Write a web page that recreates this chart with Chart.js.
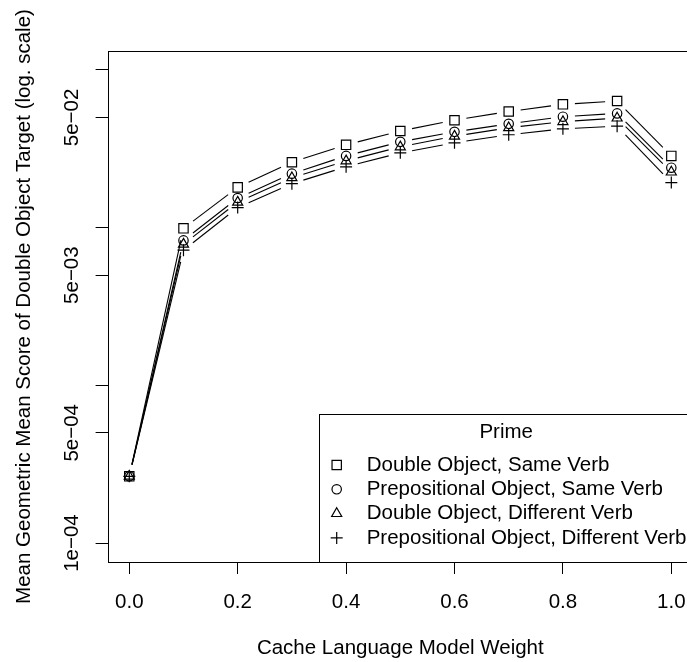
<!DOCTYPE html>
<html>
<head>
<meta charset="utf-8">
<script src="https://cdn.jsdelivr.net/npm/chart.js@4.4.1/dist/chart.umd.min.js"></script>
<style>
  html, body { margin:0; padding:0; background:#fff; overflow:hidden; }
  #wrap { width:720px; height:662px; }
</style>
</head>
<body>
<div id="wrap"><canvas id="grafico" width="720" height="662"></canvas></div>
<script>
// cache weight on the x axis
const weights = [0.0, 0.1, 0.2, 0.3, 0.4, 0.5, 0.6, 0.7, 0.8, 0.9, 1.0];

// mean geometric mean score per prime condition
const doSame = [2.65e-4, 9.9e-3, 1.8e-2, 2.6e-2, 3.35e-2, 4.1e-2, 4.8e-2, 5.45e-2, 6.05e-2, 6.35e-2, 2.85e-2];
const poSame = [2.65e-4, 8.3e-3, 1.54e-2, 2.2e-2, 2.85e-2, 3.5e-2, 4.05e-2, 4.55e-2, 5.05e-2, 5.3e-2, 2.4e-2];
const doDiff = [2.65e-4, 7.85e-3, 1.45e-2, 2.07e-2, 2.65e-2, 3.25e-2, 3.8e-2, 4.3e-2, 4.7e-2, 4.95e-2, 2.25e-2];
const poDiff = [2.65e-4, 7.2e-3, 1.34e-2, 1.9e-2, 2.43e-2, 2.98e-2, 3.45e-2, 3.88e-2, 4.23e-2, 4.4e-2, 1.93e-2];

const seriesNames = [
  "Double Object, Same Verb",
  "Prepositional Object, Same Verb",
  "Double Object, Different Verb",
  "Prepositional Object, Different Verb"
];

const xTicks = [0.0, 0.2, 0.4, 0.6, 0.8, 1.0];
const xTickLabels = ["0.0", "0.2", "0.4", "0.6", "0.8", "1.0"];
const yTicks = [1e-4, 5e-4, 1e-3, 5e-3, 1e-2, 5e-2, 1e-1];
const yTickLabels = ["1e\u221204", "5e\u221204", "", "5e\u221203", "", "5e\u221202", ""];

const FONT = '20.5px "Liberation Sans", Arial, Helvetica, sans-serif';
const markers = [
  { style:"rect", radius:6.6 },
  { style:"circle", radius:4.7 },
  { style:"triangle", radius:5.8 },
  { style:"cross", radius:6 }
];

function toPoints(vals) {
  return weights.map((w, i) => ({ x:w, y:vals[i] }));
}

const datasets = [doSame, poSame, doDiff, poDiff].map((vals, i) => ({
  label: seriesNames[i],
  data: toPoints(vals),
  showLine: false,
  pointStyle: markers[i].style,
  pointRadius: markers[i].radius,
  pointHoverRadius: markers[i].radius,
  pointBorderWidth: 1.2,
  pointBorderColor: "#000",
  pointBackgroundColor: "rgba(0,0,0,0)"
}));

// lines between points with a gap round each marker (like type="b")
const gappedLines = {
  id: "gappedLines",
  afterDatasetsDraw(chart) {
    const ctx = chart.ctx;
    const gap = 12;
    ctx.save();
    ctx.strokeStyle = "#000";
    ctx.lineWidth = 1.1;
    chart.data.datasets.forEach((ds, di) => {
      const pts = chart.getDatasetMeta(di).data;
      for (let i = 1; i < pts.length; i++) {
        const a = pts[i-1], b = pts[i];
        const dx = b.x - a.x, dy = b.y - a.y;
        const d = Math.hypot(dx, dy);
        if (d <= 2*gap) continue;
        const ux = dx/d, uy = dy/d;
        ctx.beginPath();
        ctx.moveTo(a.x + ux*gap, a.y + uy*gap);
        ctx.lineTo(b.x - ux*gap, b.y - uy*gap);
        ctx.stroke();
      }
    });
    ctx.restore();
  }
};

// box, tick labels, axis titles and the legend
const frame = {
  id: "frame",
  afterDraw(chart) {
    const ctx = chart.ctx;
    const area = chart.chartArea;
    const xs = chart.scales.x, ys = chart.scales.y;
    ctx.save();
    ctx.strokeStyle = "#000";
    ctx.lineWidth = 1;
    ctx.strokeRect(Math.round(area.left)+0.5, Math.round(area.top)+0.5,
                   Math.round(area.right-area.left), Math.round(area.bottom-area.top));

    ctx.fillStyle = "#000";
    ctx.font = FONT;
    ctx.textAlign = "center";
    ctx.textBaseline = "middle";
    xTicks.forEach((v, i) => {
      ctx.fillText(xTickLabels[i], xs.getPixelForValue(v), area.bottom + 40);
    });
    yTicks.forEach((v, i) => {
      if (!yTickLabels[i]) return;
      ctx.save();
      ctx.translate(area.left - 35, ys.getPixelForValue(v));
      ctx.rotate(-Math.PI/2);
      ctx.fillText(yTickLabels[i], 0, 0);
      ctx.restore();
    });

    ctx.fillText("Cache Language Model Weight", (area.left + area.right)/2, area.bottom + 86);
    ctx.save();
    ctx.translate(24, (area.top + area.bottom)/2);
    ctx.rotate(-Math.PI/2);
    ctx.fillText("Mean Geometric Mean Score of Double Object Target (log. scale)", 0, 0);
    ctx.restore();

    // legend in the bottom right corner of the plot
    const lw = 373.7, lh = 147.7;
    const lx = area.right - lw, ly = area.bottom - lh;
    ctx.fillStyle = "#fff";
    ctx.fillRect(lx, ly, lw, lh);
    ctx.strokeRect(Math.round(lx)+0.5, Math.round(ly)+0.5, Math.round(lw), Math.round(lh));
    ctx.fillStyle = "#000";
    ctx.fillText("Prime", lx + lw/2, ly + 18);
    ctx.textAlign = "left";
    seriesNames.forEach((name, i) => {
      const ry = ly + 50.7 + i*24.3;
      ctx.save();
      ctx.lineWidth = 1.2;
      ctx.strokeStyle = "#000";
      ctx.fillStyle = "rgba(0,0,0,0)";
      Chart.helpers.drawPoint(ctx, { pointStyle:markers[i].style, radius:markers[i].radius, rotation:0, borderWidth:1.2 }, lx + 17.4, ry);
      ctx.restore();
      ctx.fillText(name, lx + 47.4, ry);
    });
    ctx.restore();
  }
};

new Chart(document.getElementById("grafico").getContext("2d"), {
  type: "scatter",
  data: { datasets },
  options: {
    responsive: false,
    animation: false,
    events: [],
    layout: { padding: { top:51, right:27, left:0, bottom:0 } },
    plugins: { legend: { display:false }, tooltip: { enabled:false } },
    scales: {
      x: {
        type: "linear",
        min: -0.04,
        max: 1.04,
        afterBuildTicks: s => { s.ticks = xTicks.map(v => ({ value:v })); },
        afterFit: s => { s.height = 100; },
        ticks: { display:false },
        grid: { drawOnChartArea:false, drawTicks:true, tickLength:12, tickColor:"#000", lineWidth:1 },
        border: { display:false }
      },
      y: {
        type: "logarithmic",
        min: Math.pow(10, -4.12),
        max: Math.pow(10, -0.88),
        afterBuildTicks: s => { s.ticks = yTicks.map(v => ({ value:v })); },
        afterFit: s => { s.width = 107.6; },
        ticks: { display:false },
        grid: { drawOnChartArea:false, drawTicks:true, tickLength:12, tickColor:"#000", lineWidth:1 },
        border: { display:false }
      }
    }
  },
  plugins: [gappedLines, frame]
});
</script>
</body>
</html>
